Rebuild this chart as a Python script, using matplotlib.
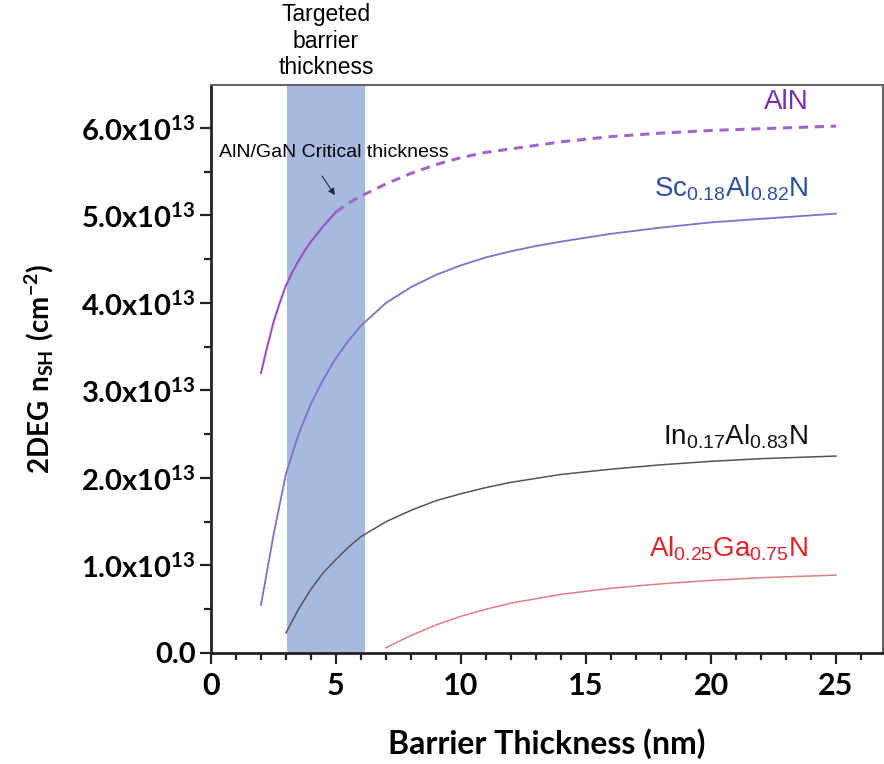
import numpy as np
import matplotlib.pyplot as plt
from matplotlib.ticker import MultipleLocator, FixedLocator

plt.rcParams['mathtext.fontset'] = 'custom'
plt.rcParams['mathtext.rm'] = 'Liberation Sans'
plt.rcParams['mathtext.bf'] = 'Lato:bold'
plt.rcParams['mathtext.default'] = 'regular'

# --- data (values in units of 1e13 cm^-2) ---
aln_x_solid = [2, 2.25, 2.5, 2.75, 3, 3.25, 3.5, 3.75, 4, 4.5, 5]
aln_y_solid = [3.2, 3.5, 3.78, 4.0, 4.2, 4.35, 4.48, 4.6, 4.7, 4.88, 5.04]
aln_x_dash = [5, 5.5, 6, 7, 8, 9, 10, 11, 12, 14, 16, 18, 20, 22, 25]
aln_y_dash = [5.04, 5.14, 5.22, 5.36, 5.48, 5.58, 5.66, 5.72, 5.76, 5.84, 5.9, 5.94, 5.97, 5.99, 6.02]

sc_x = [2, 2.5, 3, 3.5, 4, 4.5, 5, 5.5, 6, 7, 8, 9, 10, 11, 12, 13, 14, 16, 18, 20, 22, 25]
sc_y = [0.55, 1.35, 2.05, 2.5, 2.85, 3.13, 3.37, 3.57, 3.74, 4.0, 4.18, 4.32, 4.43, 4.52, 4.59,
        4.65, 4.7, 4.79, 4.86, 4.92, 4.96, 5.02]

inaln_x = [3, 3.5, 4, 4.5, 5, 5.5, 6, 7, 8, 9, 10, 11, 12, 14, 16, 18, 20, 22, 25]
inaln_y = [0.23, 0.5, 0.73, 0.92, 1.07, 1.21, 1.33, 1.5, 1.63, 1.74, 1.82, 1.89, 1.95, 2.04,
           2.1, 2.15, 2.19, 2.22, 2.25]

algan_x = [7, 7.5, 8, 8.5, 9, 9.5, 10, 11, 12, 13, 14, 16, 18, 20, 22, 25]
algan_y = [0.06, 0.13, 0.2, 0.26, 0.32, 0.37, 0.42, 0.5, 0.57, 0.62, 0.67, 0.74, 0.79, 0.83, 0.86, 0.89]

band = (3.05, 6.15)
y_ticks = [0, 1, 2, 3, 4, 5, 6]
y_ticklabels = ['0.0'] + [r'$\mathbf{%d.0x10^{13}}$' % v for v in y_ticks[1:]]

# --- plot ---
fig = plt.figure(figsize=(8.84, 7.64), dpi=100)
ax = fig.add_axes([0.2387, 0.1453, 0.7602, 0.7435])

ax.axvspan(band[0], band[1], color='#a7b9df', lw=0, zorder=0)

ax.plot(aln_x_solid, aln_y_solid, color='#9b4fc0', lw=1.5, solid_joinstyle='round')
ax.plot(aln_x_dash, aln_y_dash, color='#a266c8', lw=2.2, ls=(0, (3, 2.2)))
ax.plot(sc_x, sc_y, color='#7a72cc', lw=1.3, solid_joinstyle='round')
ax.plot(inaln_x, inaln_y, color='#555555', lw=1.1, solid_joinstyle='round')
ax.plot(algan_x, algan_y, color='#e08080', lw=1.1, solid_joinstyle='round')

lab = dict(family='Liberation Sans', fontsize=20, ha='right', va='baseline')
ax.text(23.9, 6.22, 'AlN', color='#7b2fa8', **lab)
ax.text(23.9, 5.22, r'Sc$_{0.18}$Al$_{0.82}$N', color='#2f50a0', **lab)
ax.text(23.9, 2.38, r'In$_{0.17}$Al$_{0.83}$N', color='#111111', **lab)
ax.text(23.9, 1.1, r'Al$_{0.25}$Ga$_{0.75}$N', color='#e8202a', **lab)

ax.text(4.9, 5.72, 'AlN/GaN Critical thickness', ha='center', va='center',
        family='Liberation Sans', fontsize=14)
ax.annotate('', xy=(4.96, 5.23), xytext=(4.44, 5.45),
            arrowprops=dict(arrowstyle='-|>', color='#1c2f4a', lw=0.8,
                            shrinkA=0, shrinkB=0, mutation_scale=10))

ax.annotate('Targeted\nbarrier\nthickness', xy=(sum(band) / 2, 1.0),
            xycoords=('data', 'axes fraction'), xytext=(0, 4),
            textcoords='offset points', ha='center', va='bottom',
            family='Liberation Sans', fontsize=16.5, linespacing=1.2,
            annotation_clip=False)

ax.set_xlim(0, 26.88)
ax.set_ylim(0, 6.49)
ax.xaxis.set_major_locator(MultipleLocator(5))
ax.xaxis.set_minor_locator(MultipleLocator(1))
ax.yaxis.set_major_locator(FixedLocator(y_ticks))
ax.yaxis.set_minor_locator(MultipleLocator(0.5))
ax.set_yticklabels(y_ticklabels)

for lbl in ax.get_yticklabels():
    lbl.set_fontfamily('Lato')
    lbl.set_fontweight('bold')
    lbl.set_fontsize(21)
for lbl in ax.get_xticklabels():
    lbl.set_fontfamily('Lato')
    lbl.set_fontweight('bold')
    lbl.set_fontsize(22)

ax.tick_params(which='both', direction='out', width=1.6, color='#222222')
ax.tick_params(which='major', length=8)
ax.tick_params(which='minor', length=5)
ax.tick_params(axis='y', which='both', right=True, pad=3)
ax.tick_params(axis='x', pad=6)

for side in ['left', 'bottom']:
    ax.spines[side].set_linewidth(2.0)
    ax.spines[side].set_color('#222222')
for side in ['top', 'right']:
    ax.spines[side].set_linewidth(1.5)
    ax.spines[side].set_color('#666666')

ax.set_xlabel('Barrier Thickness (nm)', family='Lato', fontweight='bold', fontsize=23, labelpad=20)
ax.set_ylabel(r'$\mathbf{2DEG\ n_{SH}\ (cm^{-2})}$', fontsize=20, labelpad=18)

fig.savefig('out.png', dpi=100)
